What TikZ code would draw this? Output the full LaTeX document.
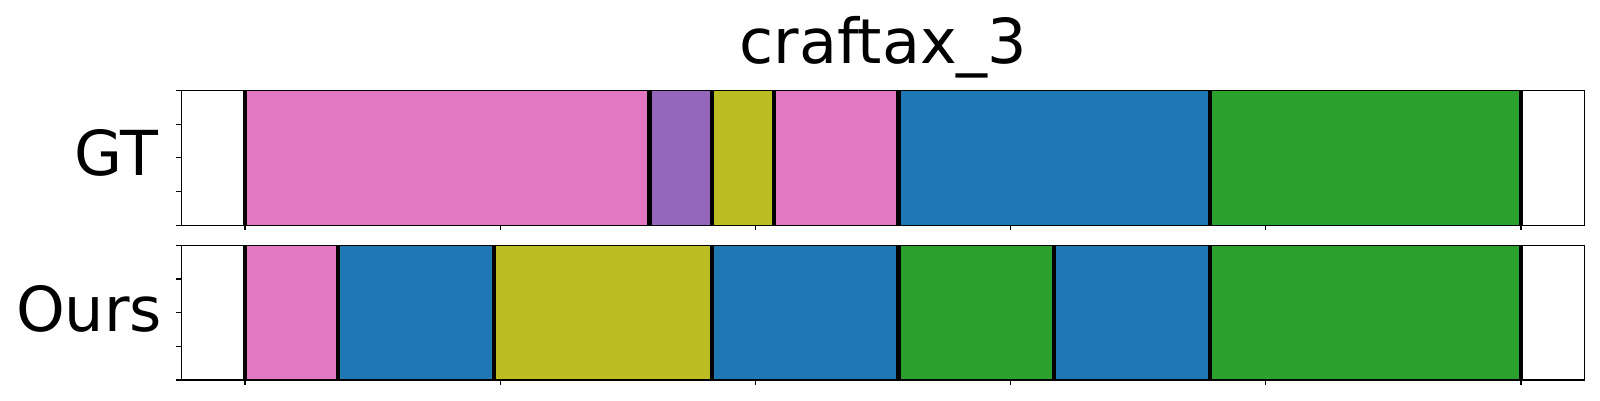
\documentclass[tikz,border=0pt]{standalone}
\usepackage{fontspec}
\setmainfont{DejaVu Sans}
\definecolor{tpink}{HTML}{E377C2}
\definecolor{tpurple}{HTML}{9467BD}
\definecolor{tolive}{HTML}{BCBD22}
\definecolor{tblue}{HTML}{1F77B4}
\definecolor{tgreen}{HTML}{2CA02C}
\tikzset{
  spine/.style={draw=black, line width=1.1pt},
  tickmark/.style={draw=black, line width=1.1pt},
  segline/.style={draw=black, line width=4.2pt},
  bigtext/.style={font=\fontsize{62}{70}\selectfont, inner sep=0pt, outer sep=0pt},
}
\begin{document}
\begin{tikzpicture}[x=1pt,y=1pt]
\useasboundingbox (0,0) rectangle (1600,400);
\fill[white] (0,0) rectangle (1600,400);
\node[bigtext, anchor=base] (title) at (883.3,337) {craftax\_3};
\node[bigtext, anchor=base east] (gt) at (158.5,225) {GT};
\node[bigtext, anchor=base east] (ours) at (162,69) {Ours};
% data coordinates: x in units of 1276/41 pt, shifted to 245pt
\begin{scope}[xshift=245pt, x=31.1220pt]
  % ---------- GT axis (y 174.7 .. 309.7) ----------
  \def\ya{174.7}\def\yb{309.7}
  \fill[tpink]   (0,\ya) rectangle (13,\yb);
  \fill[tpurple] (13,\ya) rectangle (15,\yb);
  \fill[tolive]  (15,\ya) rectangle (17,\yb);
  \fill[tpink]   (17,\ya) rectangle (21,\yb);
  \fill[tblue]   (21,\ya) rectangle (31,\yb);
  \fill[tgreen]  (31,\ya) rectangle (41,\yb);
  \foreach \k in {0,13,15,17,21,31,41} \draw[segline] (\k,\ya) -- (\k,\yb);
  \foreach \t in {0,0.25,0.5,0.75,1} \draw[tickmark] (-2.05,{\ya+\t*(\yb-\ya)}) -- ++(-4.8pt,0);
  \foreach \k in {0,8.2,16.4,24.6,32.8,41} \draw[tickmark] (\k,\ya) -- ++(0,-4.8pt);
  \draw[spine] (-2.05,\ya) rectangle (43.05,\yb);
  % ---------- Ours axis (y 20 .. 154.7) ----------
  \def\ya{20}\def\yb{154.7}
  \fill[tpink]  (0,\ya) rectangle (3,\yb);
  \fill[tblue]  (3,\ya) rectangle (8,\yb);
  \fill[tolive] (8,\ya) rectangle (15,\yb);
  \fill[tblue]  (15,\ya) rectangle (21,\yb);
  \fill[tgreen] (21,\ya) rectangle (26,\yb);
  \fill[tblue]  (26,\ya) rectangle (31,\yb);
  \fill[tgreen] (31,\ya) rectangle (41,\yb);
  \foreach \k in {0,3,8,15,21,26,31,41} \draw[segline] (\k,\ya) -- (\k,\yb);
  \foreach \t in {0,0.25,0.5,0.75,1} \draw[tickmark] (-2.05,{\ya+\t*(\yb-\ya)}) -- ++(-4.8pt,0);
  \foreach \k in {0,8.2,16.4,24.6,32.8,41} \draw[tickmark] (\k,\ya) -- ++(0,-4.8pt);
  \draw[spine] (-2.05,\ya) rectangle (43.05,\yb);
\end{scope}
\end{tikzpicture}
\end{document}
